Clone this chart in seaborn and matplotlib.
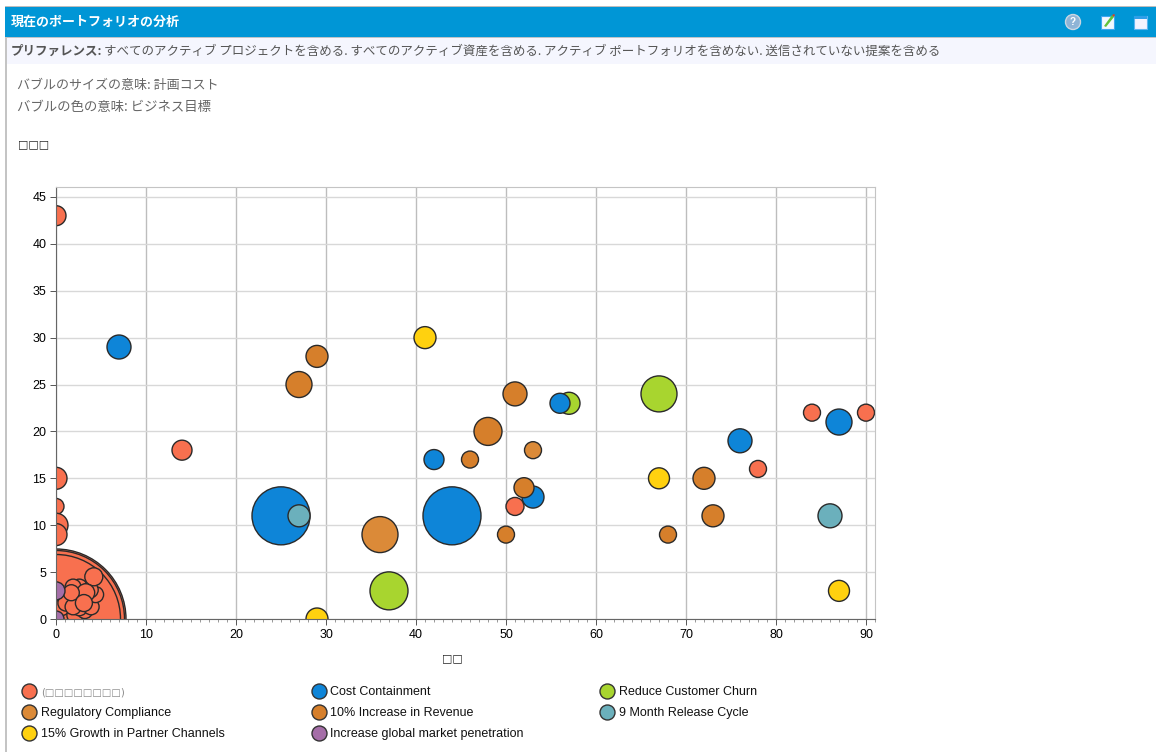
import matplotlib
matplotlib.use("Agg")
import matplotlib.pyplot as plt
import pandas as pd
import seaborn as sns
from matplotlib.lines import Line2D
from matplotlib.patches import Circle, Polygon, Rectangle

# Portfolio projects per business goal; cost is the bubble radius in pixels
unassigned_x = [0, 14, 0, 0, 0, 0, 78, 84, 90, 0, 0, 0,
                0.1, 0.4, 1.3, 0.6, 2.1, 3.2, 1.1, 2.6, 1.9, 3.9, 4.4, 2.6, 1.9,
                3.8, 4.2, 3.3, 1.7, 3.1]
unassigned_y = [43, 18, 15, 12, 10, 9, 16, 22, 22, 0, 0, 0,
                0.7, 0.5, 0.7, 1.2, 0.4, 0.9, 1.7, 1.2, 1.3, 1.3, 2.6, 3.4, 3.4,
                3.1, 4.5, 2.8, 2.8, 1.7]
unassigned_cost = [10, 10, 11, 8, 12, 11, 8.5, 8.5, 8.5, 70, 68.5, 64.5,
                   8, 8, 8, 8, 8, 8, 8, 8, 8, 8, 8, 8, 8,
                   8, 9, 9, 8, 8.5]
churn_x = [57, 67, 37]
churn_y = [23, 24, 3]
churn_cost = [11, 18, 19]
containment_x = [7, 25, 44, 42, 53, 56, 76, 87]
containment_y = [29, 11, 11, 17, 13, 23, 19, 21]
containment_cost = [12, 29, 29, 10, 11, 10, 12, 13]
late_unassigned_x = [51]
late_unassigned_y = [12]
late_unassigned_cost = [9]
compliance_x = [36, 53]
compliance_y = [9, 18]
compliance_cost = [18, 8.5]
revenue_x = [29, 27, 51, 48, 46, 52, 50, 68, 72, 73]
revenue_y = [28, 25, 24, 20, 17, 14, 9, 9, 15, 11]
revenue_cost = [11, 13, 12, 14, 8.5, 10, 8.5, 8.5, 11, 11]
release_x = [27, 86]
release_y = [11, 11]
release_cost = [11, 12]
partner_x = [41, 67, 29, 87]
partner_y = [30, 15, 0, 3]
partner_cost = [11, 10.5, 11, 10.5]
market_x = [0, 0]
market_y = [3, 0]
market_cost = [9, 8]

UNASSIGNED = "(□□□□□□□□)"
CONTAINMENT = "Cost Containment"
CHURN = "Reduce Customer Churn"
COMPLIANCE = "Regulatory Compliance"
REVENUE = "10% Increase in Revenue"
RELEASE = "9 Month Release Cycle"
PARTNER = "15% Growth in Partner Channels"
MARKET = "Increase global market penetration"

palette = {
    UNASSIGNED: "#F8704F", CONTAINMENT: "#0E85D8", CHURN: "#A8D52F",
    COMPLIANCE: "#DB8A38", REVENUE: "#D67F2B", RELEASE: "#6BB0BC",
    PARTNER: "#FFD10F", MARKET: "#A56EA8",
}

# Draw order decides which bubble sits on top where they overlap
series = [
    (UNASSIGNED, unassigned_x, unassigned_y, unassigned_cost),
    (CHURN, churn_x, churn_y, churn_cost),
    (CONTAINMENT, containment_x, containment_y, containment_cost),
    (UNASSIGNED, late_unassigned_x, late_unassigned_y, late_unassigned_cost),
    (COMPLIANCE, compliance_x, compliance_y, compliance_cost),
    (REVENUE, revenue_x, revenue_y, revenue_cost),
    (RELEASE, release_x, release_y, release_cost),
    (PARTNER, partner_x, partner_y, partner_cost),
    (MARKET, market_x, market_y, market_cost),
]
frame = pd.concat(
    [pd.DataFrame({"x": x, "y": y, "cost": c, "goal": name}) for name, x, y, c in series],
    ignore_index=True,
)

sns.set_theme(style="whitegrid")
plt.rcParams["font.family"] = ["Liberation Sans", "Noto Sans CJK JP", "DejaVu Sans"]
JP = ["Noto Sans CJK JP", "DejaVu Sans"]
W, H = 1156, 752
PX = 72 / 100

fig = plt.figure(figsize=(W / 100, H / 100), dpi=100, facecolor="white")

# Portlet chrome, laid out in pixel coordinates
page = fig.add_axes([0, 0, 1, 1], zorder=0)
page.set_xlim(0, W)
page.set_ylim(H, 0)
page.axis("off")
page.add_patch(Rectangle((5, 6), W - 5, 1.5, color="#BDBDBD", lw=0))
page.add_patch(Rectangle((5, 7), W - 5, 30, color="#0096D6", lw=0))
page.add_patch(Rectangle((5, 37), W - 5, 1.5, color="#BFC4C8", lw=0))
page.add_patch(Rectangle((6, 38), W - 6, 26, color="#F5F6FE", lw=0))
page.add_patch(Rectangle((5, 37), 1.5, H - 37, color="#C4C4C4", lw=0))

page.text(11, 22, "現在のポートフォリオの分析", family=JP, fontsize=13 * PX,
          fontweight="bold", color="white", va="center")
page.text(11, 51, "プリファレンス:", family=JP, fontsize=12.5 * PX,
          fontweight="bold", color="#555555", va="center")
page.text(104, 51,
          "すべてのアクティブ プロジェクトを含める. すべてのアクティブ資産を含める. "
          "アクティブ ポートフォリオを含めない. 送信されていない提案を含める",
          family=JP, fontsize=12.5 * PX, color="#555555", va="center")
page.text(17, 86, "バブルのサイズの意味: 計画コスト", family=JP, fontsize=13 * PX,
          color="#666666", va="center")
page.text(17, 107, "バブルの色の意味: ビジネス目標", family=JP, fontsize=13.4 * PX,
          color="#666666", va="center")
page.text(18, 144, "□□□", family="DejaVu Sans", fontsize=11 * PX, color="#222222", va="center")

# Toolbar icons on the header band
page.add_patch(Circle((1073, 22), 7.5, fc="#8FB4D6", ec="#C9D6E2", lw=1))
page.text(1073, 22, "?", fontsize=10 * PX, color="white", fontweight="bold",
          ha="center", va="center")
page.add_patch(Rectangle((1100.5, 16), 13, 13, fc="#F2F8FF", ec="#3FA6F0", lw=0.8))
page.add_patch(Polygon([(1104, 26), (1106, 27), (1114, 17), (1112, 15)], color="#62C23B", lw=0))
page.add_patch(Polygon([(1112, 15), (1114, 17), (1115, 15), (1114, 14)], color="#D9402A", lw=0))
page.add_patch(Rectangle((1134, 16), 13, 13, fc="#F3F3FF", ec="#5DB5F2", lw=0.8))
page.add_patch(Rectangle((1134, 16), 13, 2.5, fc="#2F9FE8", lw=0))

# Bubble chart
ax = fig.add_axes([56 / W, 1 - 619 / H, (875 - 56) / W, (619 - 187) / H], zorder=1)
ax.patch.set_alpha(0)
sns.scatterplot(
    data=frame, x="x", y="y", hue="goal", palette=palette, size="cost",
    sizes={c: (2 * c * PX) ** 2 for c in frame["cost"].unique()},
    edgecolor="#2A2A2A", linewidth=1.0, legend=False, ax=ax, zorder=3,
)
ax.set_xlim(0, 91)
ax.set_ylim(0, 46.06)
ax.set_xticks(range(0, 91, 10))
ax.set_xticks(range(0, 92), minor=True)
ax.set_yticks(range(0, 46, 5))
ax.grid(True, which="major", axis="x", color="#BDBDBD", lw=1.0)
ax.grid(True, which="major", axis="y", color="#D8D8D8", lw=1.0)
ax.grid(False, which="minor")
ax.tick_params(axis="both", which="major", length=4, width=0.7, color="#555555",
               labelsize=12.5 * PX, labelcolor="black", pad=3, bottom=True, left=True)
ax.tick_params(axis="x", which="minor", length=2, width=0.6, color="#888888", bottom=True)
for side, colour in {"left": "#666666", "bottom": "#666666",
                     "top": "#C4C4C4", "right": "#C4C4C4"}.items():
    ax.spines[side].set_color(colour)
    ax.spines[side].set_linewidth(0.8)
    ax.spines[side].set_zorder(4)
ax.set_xlabel("")
ax.set_ylabel("")
page.text(452, 658, "□□", family="DejaVu Sans", fontsize=11 * PX, color="#222222",
          ha="center", va="center")

# Legend: three evenly spaced columns
columns = [
    (20, 687, [UNASSIGNED, COMPLIANCE, PARTNER]),
    (309.5, 686, [CONTAINMENT, REVENUE, MARKET]),
    (598, 686, [CHURN, RELEASE]),
]
for left, top, names in columns:
    handles = [Line2D([], [], ls="", marker="o", ms=15 * PX, mfc=palette[n],
                      mec="#333333", mew=1.0, label=n) for n in names]
    leg = fig.legend(
        handles=handles, loc="upper left", bbox_to_anchor=(left / W, 1 - top / H),
        frameon=False, fontsize=12.5 * PX, borderpad=0, borderaxespad=0,
        labelspacing=0.74, handletextpad=0.18, handlelength=1.5,
    )
    for text in leg.get_texts():
        if text.get_text() == UNASSIGNED:
            text.set_color("#8A8A8A")
            text.set_family("DejaVu Sans")
            text.set_fontsize(10 * PX)
        else:
            text.set_color("#111111")

fig.savefig("out.png", dpi=100)
